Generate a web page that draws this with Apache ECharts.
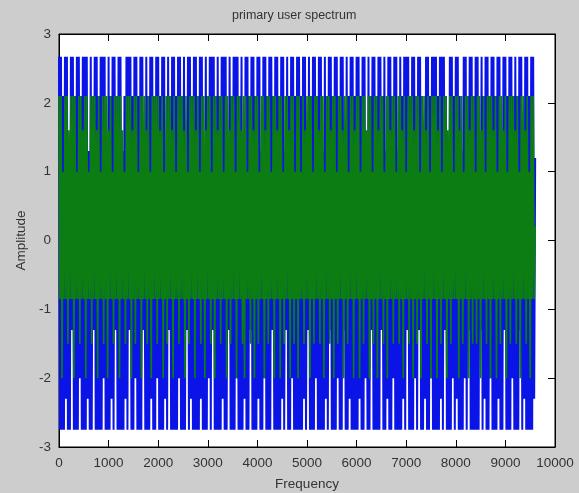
<!DOCTYPE html>
<html>
<head>
<meta charset="utf-8">
<script src="https://cdn.jsdelivr.net/npm/echarts@6/dist/echarts.min.js"></script>
<style>
  html, body { margin: 0; padding: 0; background: #cdcdcd; }
  #main { width: 579px; height: 493px; }
</style>
</head>
<body>
<div id="main"></div>
<script>
// sample grid along frequency axis
const freqStart = 0
const freqStep = 20

// blue trace (alternating peaks/troughs)
const blueValues = [
  2.67,-2.75,2.67,-2.75,2.1,-2.75,2.67,-2.3,2.67,-2.75,1.3,-2.75,2.67,-1.3,2.67,-2.75,2.1,-2.75,2.67,-2.75,
  2.67,-2.0,2.1,-2.75,2.67,-2.75,2.67,-2.75,2.67,-2.3,1.3,-2.75,2.67,-2.75,2.1,-1.3,2.67,-2.75,2.67,-2.75,
  2.1,-2.75,2.67,-2.75,2.67,-2.0,2.67,-2.75,1.3,-2.75,2.67,-2.75,2.1,-2.3,2.67,-2.75,2.67,-1.3,2.1,-2.75,
  2.67,-2.75,2.67,-2.75,1.3,-2.75,2.1,-2.3,2.67,-2.75,2.67,-1.3,2.67,-2.75,2.1,-2.75,2.67,-2.0,2.67,-2.75,
  2.1,-2.75,2.67,-2.75,2.67,-1.3,1.3,-2.75,2.67,-2.75,2.1,-2.75,2.67,-2.3,2.67,-2.75,2.1,-2.75,2.67,-2.0,
  2.67,-2.75,2.1,-2.75,2.67,-2.75,2.67,-2.3,1.3,-2.75,2.67,-1.3,2.1,-2.75,2.67,-2.75,2.67,-2.75,2.1,-2.75,
  2.67,-2.0,2.67,-2.75,2.1,-2.75,2.67,-2.75,1.3,-1.3,2.67,-2.75,2.67,-2.3,2.1,-2.75,2.67,-2.75,2.67,-2.75,
  2.1,-2.75,2.67,-2.3,2.67,-2.75,1.3,-2.75,2.67,-2.75,2.1,-2.0,2.67,-2.75,2.67,-1.3,2.67,-2.75,2.1,-2.75,
  2.67,-2.75,2.1,-2.75,2.67,-2.3,2.67,-2.75,2.67,-2.75,1.3,-1.3,2.67,-2.75,2.1,-2.75,2.67,-2.75,2.67,-2.0,
  2.67,-2.75,2.1,-2.75,2.67,-2.75,1.3,-2.3,2.67,-2.75,2.67,-2.75,2.1,-1.3,2.67,-2.75,2.67,-2.75,2.1,-2.75,
  2.67,-2.3,2.67,-2.75,1.3,-2.75,2.67,-2.0,2.67,-2.75,2.1,-2.75,2.67,-2.75,2.67,-1.3,2.1,-2.75,2.67,-2.75,
  2.67,-2.75,2.1,-2.75,2.67,-2.3,2.67,-2.75,1.3,-1.3,2.67,-2.75,2.1,-2.75,2.67,-2.0,2.67,-2.75,2.1,-2.75,
  2.67,-2.75,2.67,-2.75,2.1,-2.75,2.67,-2.3,2.67,-2.75,1.3,-1.3,2.67,-2.75,2.1,-2.75,2.67,-2.75,2.67,-2.0,
  2.1,-2.75,2.67,-2.75,2.67,-2.75,1.3,-2.75,2.67,-2.3,2.1,-2.75,2.67,-1.3,2.67,-2.75,2.1,-2.75,2.67,-2.75,
  2.67,-2.0,2.1,-2.75,2.67,-2.75,2.67,-1.3,1.3,-2.75,2.67,-2.75,2.1,-2.3,2.67,-2.75,2.67,-2.75,2.1,-2.75,
  2.67,-2.75,2.67,-2.3,2.1,-2.75,2.67,-2.75,2.67,-2.0,1.3,-2.75,2.67,-2.75,2.1,-1.3,2.67,-2.75,2.67,-2.75,
  2.1,-2.75,2.67,-2.75,2.67,-1.3,2.1,-2.75,2.67,-2.75,1.3,-2.3,2.67,-2.75,2.67,-2.75,2.1,-2.0,2.67,-2.75,
  2.67,-2.75,1.3,-2.75,2.67,-2.75,2.1,-2.3,2.67,-2.75,2.67,-1.3,2.67,-2.75,2.1,-2.75,2.67,-2.75,2.67,-2.0,
  2.1,-2.75,2.67,-1.3,2.67,-2.75,2.1,-2.75,1.3,-2.3,2.67,-2.75,2.67,-2.75,2.1,-2.0,2.67,-2.75,2.67,-2.75,
  2.67,-2.75,2.1,-2.75,2.67,-2.3,2.67,-2.75,2.67,-1.3,2.1,-2.75,1.3,-2.75,2.67,-2.75,2.67,-2.0,2.1,-2.75,
  2.67,-2.3,2.67,-2.75,2.1,-2.75,1.3,-2.75,2.67,-2.0,2.67,-2.75,2.1,-1.3,2.67,-2.75,2.67,-2.75,2.1,-2.75,
  2.67,-2.75,2.67,-2.75,1.3,-1.3,2.67,-2.75,2.1,-2.3,2.67,-2.75,2.67,-2.75,2.1,-2.0,2.67,-2.75,2.67,-2.75,
  2.1,-2.75,2.67,-2.3,2.67,-2.75,1.3,-2.75,2.67,-1.3,2.67,-2.75,2.1,-2.75,2.67,-2.75,2.67,-2.0,2.1,-2.75,
  2.67,-2.75,2.1,-2.75,2.67,-1.3,2.67,-2.75,1.3,-2.3,2.67,-2.75,2.67,-2.75,2.1,-2.75,2.67,-2.75,2.67,-2.3,
  1.2
]

// green trace
const greenValues = [
  2.1,-0.85,2.1,-2.0,1.0,-0.85,2.1,-0.85,2.1,-1.5,1.6,-0.85,2.1,-0.85,2.1,-2.0,2.1,-0.85,1.0,-0.85,
  2.1,-1.5,2.1,-0.85,1.6,-0.85,2.1,-2.0,2.1,-0.85,1.0,-0.85,2.1,-1.5,2.1,-0.85,2.1,-0.85,1.6,-2.0,
  2.1,-0.85,1.0,-0.85,2.1,-1.5,2.1,-0.85,2.1,-2.0,1.6,-0.85,2.1,-0.85,1.0,-1.5,2.1,-0.85,2.1,-0.85,
  2.1,-2.0,2.1,-0.85,1.6,-0.85,1.0,-1.5,2.1,-0.85,2.1,-0.85,2.1,-2.0,1.6,-0.85,2.1,-1.5,2.1,-0.85,
  1.0,-0.85,2.1,-2.0,2.1,-0.85,2.1,-0.85,1.6,-1.5,2.1,-0.85,1.0,-2.0,2.1,-0.85,2.1,-0.85,2.1,-1.5,
  2.1,-0.85,1.6,-0.85,2.1,-2.0,1.0,-0.85,2.1,-1.5,2.1,-0.85,2.1,-0.85,1.6,-2.0,2.1,-0.85,1.0,-0.85,
  2.1,-1.5,2.1,-0.85,2.1,-0.85,1.6,-2.0,2.1,-0.85,1.0,-1.5,2.1,-0.85,2.1,-0.85,2.1,-2.0,1.6,-0.85,
  2.1,-0.85,1.0,-1.5,2.1,-0.85,2.1,-2.0,1.6,-0.85,2.1,-0.85,2.1,-1.5,1.0,-0.85,2.1,-2.0,2.1,-0.85,
  1.6,-0.85,2.1,-1.5,2.1,-0.85,1.0,-0.85,2.1,-2.0,2.1,-0.85,1.6,-1.5,2.1,-0.85,2.1,-0.85,1.0,-2.0,
  2.1,-0.85,2.1,-0.85,1.6,-1.5,2.1,-2.0,2.1,-0.85,1.0,-0.85,2.1,-1.5,2.1,-0.85,1.6,-2.0,2.1,-0.85,
  2.1,-1.5,1.0,-0.85,2.1,-0.85,2.1,-2.0,1.6,-0.85,2.1,-1.5,2.1,-0.85,1.0,-0.85,2.1,-2.0,2.1,-0.85,
  1.6,-0.85,2.1,-2.0,2.1,-0.85,1.0,-1.5,2.1,-0.85,2.1,-0.85,1.6,-2.0,2.1,-0.85,2.1,-1.5,1.0,-0.85,
  2.1,-2.0,2.1,-0.85,1.0,-0.85,2.1,-1.5,1.6,-0.85,2.1,-0.85,2.1,-2.0,2.1,-0.85,1.0,-1.5,2.1,-0.85,
  2.1,-0.85,1.6,-1.5,2.1,-0.85,2.1,-2.0,1.0,-0.85,2.1,-0.85,2.1,-1.5,1.6,-0.85,2.1,-2.0,2.1,-0.85,
  1.0,-1.5,2.1,-0.85,2.1,-0.85,1.6,-2.0,2.1,-0.85,2.1,-1.5,1.0,-0.85,2.1,-0.85,2.1,-2.0,1.6,-0.85,
  2.1,-0.85,2.1,-2.0,1.0,-0.85,2.1,-1.5,2.1,-0.85,1.6,-0.85,2.1,-2.0,2.1,-0.85,1.0,-1.5,2.1,-0.85,
  2.1,-2.0,1.6,-0.85,2.1,-0.85,2.1,-1.5,1.0,-0.85,2.1,-2.0,2.1,-0.85,1.6,-0.85,2.1,-1.5,2.1,-0.85,
  1.0,-0.85,2.1,-1.5,2.1,-0.85,1.6,-2.0,2.1,-0.85,1.0,-0.85,2.1,-1.5,2.1,-0.85,2.1,-2.0,1.6,-0.85,
  2.1,-1.5,2.1,-0.85,1.0,-2.0,2.1,-0.85,2.1,-0.85,1.6,-1.5,2.1,-0.85,1.0,-2.0,2.1,-0.85,2.1,-0.85,
  2.1,-2.0,1.6,-0.85,2.1,-1.5,1.0,-0.85,2.1,-0.85,2.1,-2.0,1.6,-0.85,2.1,-1.5,2.1,-0.85,1.0,-0.85,
  2.1,-0.85,2.1,-2.0,1.6,-0.85,2.1,-1.5,1.0,-0.85,2.1,-0.85,2.1,-2.0,1.6,-0.85,2.1,-1.5,2.1,-0.85,
  1.0,-1.5,2.1,-0.85,2.1,-2.0,1.6,-0.85,2.1,-0.85,1.0,-1.5,2.1,-0.85,2.1,-2.0,2.1,-0.85,1.6,-0.85,
  2.1,-2.0,1.0,-0.85,2.1,-1.5,2.1,-0.85,1.6,-0.85,2.1,-2.0,1.0,-0.85,2.1,-1.5,2.1,-0.85,2.1,-0.85,
  1.6,-1.5,2.1,-0.85,1.0,-2.0,2.1,-0.85,2.1,-0.85,1.6,-1.5,2.1,-0.85,1.0,-2.0,2.1,-0.85,2.1,-0.85,
  0.2
]

const xTicks = [0, 1000, 2000, 3000, 4000, 5000, 6000, 7000, 8000, 9000, 10000]
const yTicks = [-3, -2, -1, 0, 1, 2, 3]

const toPairs = (values) => values.map((v, i) => [freqStart + i * freqStep, v])

const font = 'Liberation Sans, Arial, sans-serif'
const textColor = '#333'

const tickStyle = { show: true, inside: true, length: 7, lineStyle: { color: '#000', width: 1 } }
const edgeLine = { show: true, onZero: false, lineStyle: { color: '#000', width: 1 } }

const option = {
  backgroundColor: '#cdcdcd',
  animation: false,
  title: {
    text: 'primary user spectrum',
    left: 227,
    top: 4,
    textStyle: { fontFamily: font, fontSize: 12.5, fontWeight: 'normal', color: textColor }
  },
  grid: {
    left: 59, right: 24, top: 34, bottom: 46,
    outerBoundsMode: 'none',
    show: true, backgroundColor: '#fff', borderColor: '#000', borderWidth: 1
  },
  xAxis: [{
    type: 'value',
    min: xTicks[0],
    max: xTicks[xTicks.length - 1],
    interval: 1000,
    name: 'Frequency',
    nameLocation: 'middle',
    nameGap: 30,
    nameTextStyle: { fontFamily: font, fontSize: 13.5, color: textColor },
    axisLine: edgeLine,
    axisTick: tickStyle,
    axisLabel: { fontFamily: font, fontSize: 13.5, color: textColor, margin: 9, formatter: (v) => String(v) },
    splitLine: { show: false }
  }, {
    type: 'value',
    position: 'top',
    min: xTicks[0],
    max: xTicks[xTicks.length - 1],
    interval: 1000,
    axisLine: edgeLine,
    axisTick: tickStyle,
    axisLabel: { show: false },
    splitLine: { show: false }
  }],
  yAxis: [{
    type: 'value',
    min: yTicks[0],
    max: yTicks[yTicks.length - 1],
    interval: 1,
    name: 'Amplitude',
    nameLocation: 'middle',
    nameGap: 28,
    nameTextStyle: { fontFamily: font, fontSize: 13.5, color: textColor },
    axisLine: edgeLine,
    axisTick: tickStyle,
    axisLabel: { fontFamily: font, fontSize: 13.5, color: textColor, margin: 8, formatter: (v) => String(v) },
    splitLine: { show: false }
  }, {
    type: 'value',
    position: 'right',
    min: yTicks[0],
    max: yTicks[yTicks.length - 1],
    interval: 1,
    axisLine: edgeLine,
    axisTick: tickStyle,
    axisLabel: { show: false },
    splitLine: { show: false }
  }],
  series: [
    {
      name: 'blue',
      type: 'line',
      data: toPairs(blueValues),
      showSymbol: false,
      symbol: 'none',
      lineStyle: { color: '#0a14e6', width: 2, join: 'bevel' },
      z: 2
    },
    {
      name: 'green',
      type: 'line',
      data: toPairs(greenValues),
      showSymbol: false,
      symbol: 'none',
      lineStyle: { color: '#0b7d12', width: 1.7, join: 'bevel' },
      z: 3
    }
  ]
}

const chart = echarts.init(document.getElementById('main'))
chart.setOption(option)
</script>
</body>
</html>
